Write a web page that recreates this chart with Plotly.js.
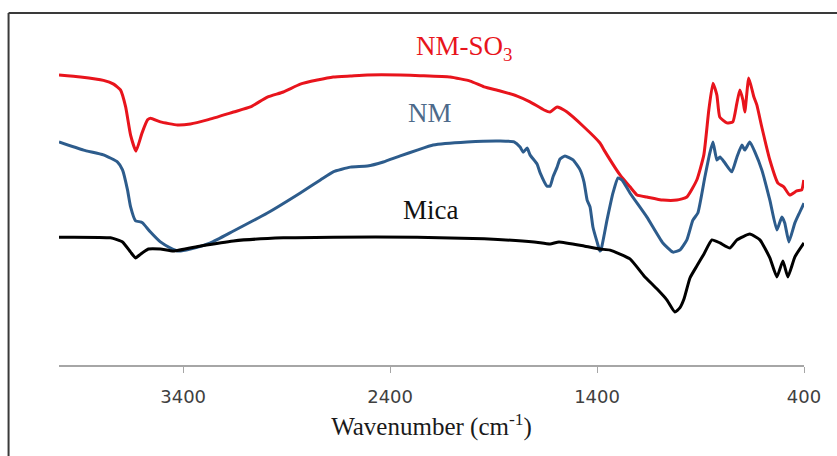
<!DOCTYPE html>
<html>
<head>
<meta charset="utf-8">
<script src="https://cdn.plot.ly/plotly-3.0.1.min.js"></script>
<style>html,body{margin:0;padding:0;background:#fff;}#chart{width:837px;height:456px;}</style>
</head>
<body>
<div id="chart"></div>
<script>
// Wavenumber (cm-1) and relative transmittance (arbitrary units, 0-100 scale)
const wnRed = [4000,3896,3785,3736,3703,3678,3654,3628,3599,3572,3558,3510,3428,3365,3283,3157,3075,2993,2916,2834,2752,2675,2592,2510,2351,2255,2110,2013,1946,1868,1786,1724,1656,1627,1593,1545,1463,1386,1366,1289,1241,1207,1159,1082,1014,966,918,884,860,840,821,807,773,744,725,710,695,686,667,642,628,604,565,526,498,469,435,411,401];
const tRed  = [85.3,84.7,83.7,82.6,80.9,75.9,67.6,62.9,68.2,72.1,72.6,71.5,70.6,70.9,72.1,74.4,75.9,78.8,80.3,82.6,83.8,84.7,85.0,85.3,85.3,85.1,84.7,83.5,81.8,80.6,79.1,77.4,75.0,74.4,75.9,74.4,70.0,65.3,63.2,55.9,52.4,50.0,49.4,48.5,48.5,49.4,54.4,61.8,75.0,82.9,79.4,72.9,71.2,71.5,76.8,80.9,77.9,74.4,84.4,78.8,76.5,70.0,60.3,53.5,52.4,50.0,51.2,51.5,54.4];

const wnBlue = [4000,3881,3785,3717,3693,3669,3654,3630,3606,3596,3558,3510,3461,3423,3365,3268,3157,2993,2834,2737,2675,2592,2510,2433,2351,2269,2192,2028,1868,1801,1772,1757,1738,1724,1690,1675,1642,1627,1613,1593,1579,1555,1516,1482,1463,1448,1434,1420,1400,1386,1381,1352,1323,1299,1279,1241,1159,1082,1033,1000,966,937,913,879,855,840,821,806,782,749,724,700,686,662,637,604,565,531,507,493,473,444,420,400];
const tBlue  = [65.6,63.2,61.8,59.7,57.4,51.5,46.5,42.4,42.1,41.8,39.1,36.2,34.4,33.5,34.1,35.9,39.4,44.7,50.6,54.4,56.8,58.2,58.5,59.7,61.5,63.2,64.7,65.6,65.9,65.6,64.1,62.6,63.8,61.8,59.1,56.5,52.6,52.6,55.3,58.2,60.6,61.5,60.3,57.4,53.8,48.5,46.5,40.6,36.2,33.5,33.8,42.6,50.6,55.0,54.4,50.6,43.5,35.9,33.2,33.8,36.8,42.6,44.7,55.3,62.4,65.6,60.3,61.2,59.4,56.8,61.2,64.7,63.2,65.6,62.6,57.4,48.5,39.7,43.5,41.8,36.2,41.8,45.0,47.6];

const wnBlack = [4000,3751,3693,3654,3630,3606,3568,3510,3447,3316,3157,2916,2675,2269,1946,1704,1627,1584,1463,1386,1337,1241,1173,1111,1062,1024,1000,980,951,918,884,845,806,758,724,662,613,565,531,502,478,444,400];
const tBlack  = [37.6,37.4,36.2,33.2,31.5,32.6,34.1,34.1,33.5,35.0,36.5,37.4,37.6,37.6,37.1,36.2,35.6,36.2,35.0,34.1,33.8,31.2,26.2,22.4,19.1,15.6,16.8,19.4,25.6,29.1,32.6,36.8,35.9,34.4,36.8,38.5,36.8,31.5,25.9,30.6,25.9,31.8,35.9];

const tickVals = [3400, 2400, 1400, 400];
const tickText = ["3400", "2400", "1400", "400"];
const seriesNames = ["NM-SO<sub>3</sub>", "NM", "Mica"];

const lineShape = {shape: "spline", smoothing: 0.45};
const traces = [
  {x: wnRed, y: tRed, name: seriesNames[0], mode: "lines", line: Object.assign({color: "#e8141c", width: 3}, lineShape)},
  {x: wnBlue, y: tBlue, name: seriesNames[1], mode: "lines", line: Object.assign({color: "#2d5c8c", width: 3}, lineShape)},
  {x: wnBlack, y: tBlack, name: seriesNames[2], mode: "lines", line: Object.assign({color: "#000000", width: 3}, lineShape)}
];

const layout = {
  width: 837, height: 456,
  margin: {l: 58.5, r: 32.7, t: 25, b: 91},
  paper_bgcolor: "#ffffff", plot_bgcolor: "#ffffff",
  showlegend: false,
  xaxis: {
    range: [4000, 400], autorange: false,
    showgrid: false, zeroline: false,
    showline: true, linecolor: "#a6a6a6", linewidth: 2,
    ticks: "outside", ticklen: 6, tickcolor: "#a6a6a6", tickwidth: 1,
    tickvals: tickVals, ticktext: tickText,
    ticklabelstandoff: 8,
    tickfont: {family: "DejaVu Sans", size: 18, color: "#404040"},
    title: {text: "Wavenumber (cm<sup>-1</sup>)", font: {family: "Liberation Serif", size: 25, color: "#1a1a1a"}, standoff: 12}
  },
  yaxis: {
    range: [0, 100], autorange: false,
    visible: false, showgrid: false, zeroline: false
  },
  annotations: [
    {x: 2042, y: 93.2, xref: "x", yref: "y", text: seriesNames[0], showarrow: false, font: {family: "Liberation Serif", size: 27, color: "#e8141c"}},
    {x: 2206, y: 74.1, xref: "x", yref: "y", text: seriesNames[1], showarrow: false, font: {family: "Liberation Serif", size: 27, color: "#4d6a8a"}},
    {x: 2206, y: 45.6, xref: "x", yref: "y", text: seriesNames[2], showarrow: false, font: {family: "Liberation Serif", size: 27, color: "#111111"}}
  ],
  shapes: [
    {type: "line", xref: "paper", yref: "paper", x0: -0.0677, x1: 1.05, y0: 1.0353, y1: 1.0353, line: {color: "#3a3a3a", width: 2}},
    {type: "line", xref: "paper", yref: "paper", x0: -0.0677, x1: -0.0677, y0: 1.0353, y1: -0.3, line: {color: "#3a3a3a", width: 2}}
  ]
};

Plotly.newPlot("chart", traces, layout, {displayModeBar: false, staticPlot: true});
</script>
</body>
</html>
